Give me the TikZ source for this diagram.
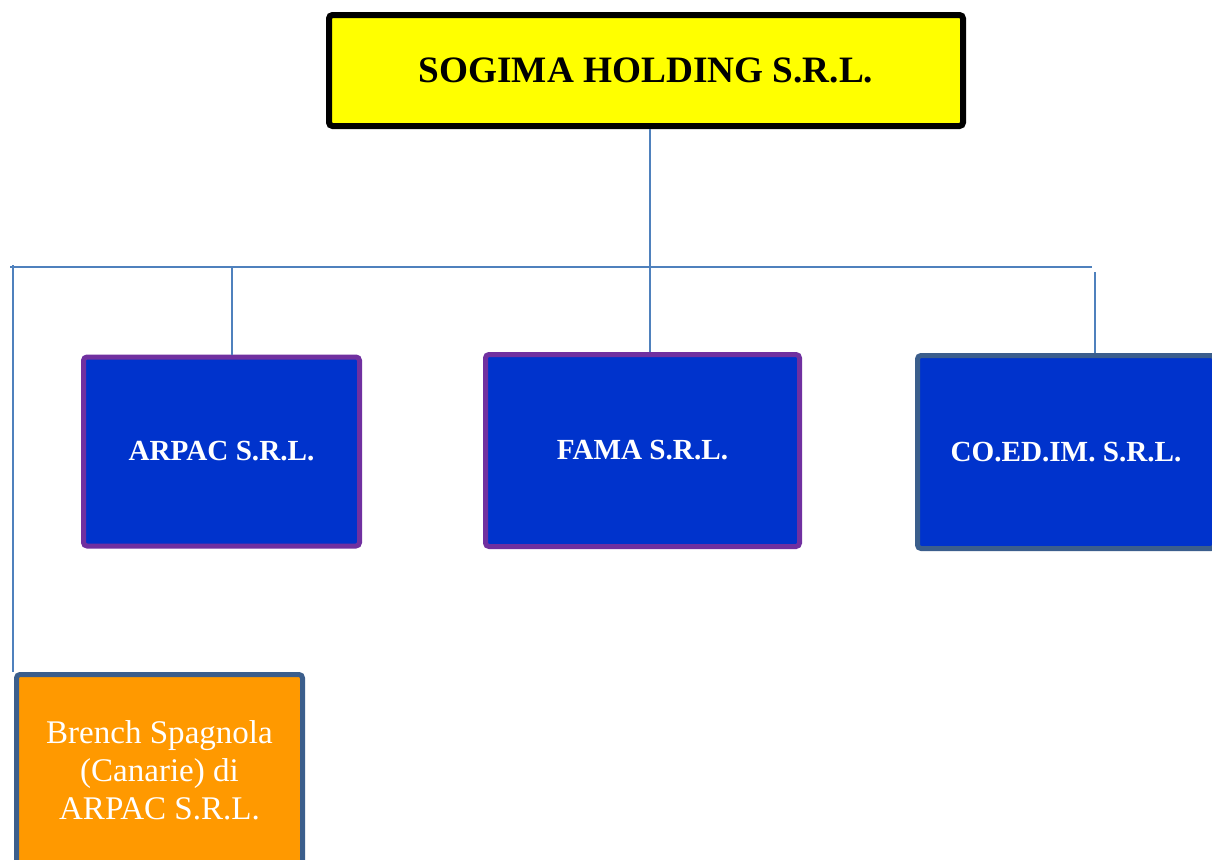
\documentclass[tikz,border=0pt]{standalone}
\usepackage{fontspec}
\setmainfont{Liberation Serif}
\usepackage{tikz}
\definecolor{jaune}{RGB}{255,255,0}
\definecolor{bleu}{RGB}{0,51,204}
\definecolor{violet}{RGB}{112,48,160}
\definecolor{ardoise}{RGB}{59,94,140}
\definecolor{orange}{RGB}{255,153,0}
\definecolor{trait}{RGB}{79,129,189}

\begin{document}
\begin{tikzpicture}[scale=1,
  holding/.style={draw=black,line width=0.06cm,fill=jaune,rounded corners=1pt,
    minimum width=6.34cm,minimum height=1.11cm,inner sep=0pt,
    font=\fontsize{10.6}{12}\selectfont\bfseries},
  filiale/.style={fill=bleu,line width=0.05cm,rounded corners=1pt,text=white,
    minimum height=1.89cm,inner sep=0pt,font=\fontsize{8.3}{10}\selectfont\bfseries},
  succursale/.style={draw=ardoise,line width=0.05cm,fill=orange,rounded corners=1pt,
    text=white,minimum width=2.86cm,minimum height=1.91cm,inner sep=0pt,
    align=center,font=\fontsize{9.4}{10.8}\selectfont},
  lien/.style={draw=trait,line width=0.6pt}]
\clip (0,0) rectangle (12.12,-8.6);
\fill [white] (0,0) rectangle (12.12,-8.6);
\node [holding] (sogima) at (6.46,-0.705) {SOGIMA HOLDING S.R.L.};
\node [filiale,draw=violet,minimum width=2.76cm] (arpac) at (2.215,-4.515) {ARPAC S.R.L.};
\node [filiale,draw=violet,minimum width=3.14cm,minimum height=1.92cm] (fama) at (6.425,-4.505) {FAMA S.R.L.};
\node [filiale,draw=ardoise,minimum width=2.97cm,minimum height=1.93cm] (coedim) at (10.66,-4.52) {CO.ED.IM. S.R.L.};
\node [succursale] (brench) at (1.595,-7.70) {Brench Spagnola\\(Canarie) di\\ARPAC S.R.L.};
\coordinate (busG) at (0.10,-2.67);
\coordinate (busD) at (10.92,-2.67);
\coordinate (jF) at (6.50,-2.67);
\coordinate (jA) at (2.32,-2.67);
\coordinate (jC) at (10.95,-2.72);
\coordinate (jB) at (0.13,-2.65);
\draw [lien] (busG) -- (busD);
\draw [lien] (sogima.south -| jF) -- (jF) -- (fama.north -| jF);
\draw [lien] (jA) -- (arpac.north -| jA);
\draw [lien] (jC) -- (coedim.north -| jC);
\draw [lien] (jB) -- (brench.north -| jB);
\end{tikzpicture}
\end{document}
